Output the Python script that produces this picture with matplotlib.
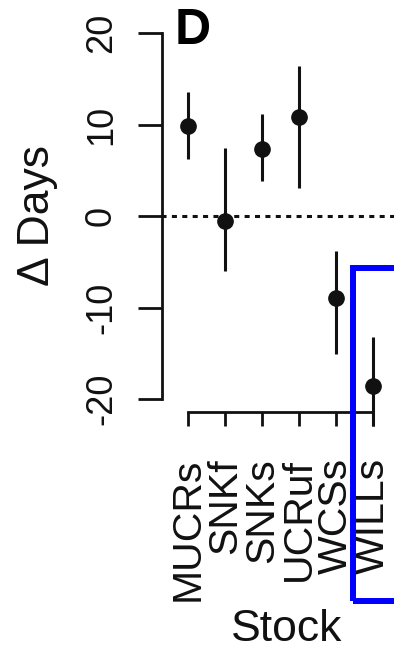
import matplotlib
matplotlib.use("Agg")
import matplotlib.pyplot as plt
from matplotlib.patches import Rectangle

plt.rcParams['font.family'] = ['Liberation Sans', 'DejaVu Sans']

stocks = ["MUCRs", "SNKf", "SNKs", "UCRuf", "WCSs", "WILLs"]
delta_days = [9.8, -0.5, 7.3, 10.8, -9.0, -18.6]
ci_low = [6.2, -6.0, 3.8, 3.1, -15.1, -23.0]
ci_high = [13.5, 7.4, 11.1, 16.4, -3.8, -13.2]
y_ticks = [-20, -10, 0, 10, 20]

W, H = 394, 651
fig = plt.figure(figsize=(W / 100, H / 100), dpi=100)

# axes box in pixels
L, R, T, B = 170, 394, 20, 400
ax = fig.add_axes([L / W, 1 - B / H, (R - L) / W, (B - T) / H])
ax.set_xlim((L - 188) / 37.0, (R - 188) / 37.0)
ax.set_ylim((216 - B) / 9.15, (216 - T) / 9.15)

x = list(range(len(stocks)))
ink = "#111111"

# reference line at zero
ax.axhline(0, color=ink, lw=2.2, linestyle=(0, (1.65, 1.75)), clip_on=False,
           xmin=-0.04, xmax=1.0)

# error bars and points
for xi, lo, hi in zip(x, ci_low, ci_high):
    ax.plot([xi, xi], [lo, hi], color=ink, lw=2.2, clip_on=False, solid_capstyle="butt")
ax.plot(x, delta_days, 'o', color=ink, markersize=11, clip_on=False)

# spines R-style
for s in ["top", "right"]:
    ax.spines[s].set_visible(False)
ax.spines["left"].set_position(("outward", 8 * 0.72))
ax.spines["left"].set_bounds(-20, 20)
ax.spines["bottom"].set_position(("outward", 12 * 0.72))
ax.spines["bottom"].set_bounds(0, 5)
for s in ["left", "bottom"]:
    ax.spines[s].set_linewidth(2.0)
    ax.spines[s].set_color(ink)

ax.set_yticks(y_ticks)
ax.set_yticklabels([str(v) for v in y_ticks], rotation=90, va="center")
ax.tick_params(axis="y", length=17, width=2.0, color=ink, labelsize=26, pad=14,
               labelcolor=ink)
ax.set_xticks(x)
ax.set_xticklabels(stocks, rotation=90)
ax.tick_params(axis="x", length=10, width=2.0, color=ink, labelsize=29.5, pad=23,
               labelcolor=ink)

ax.set_xlabel("Stock", fontsize=32, color=ink)
ax.xaxis.set_label_coords((287 - L) / (R - L), (B - 609) / (B - T))
ax.set_ylabel("\u0394 Days", fontsize=32, color=ink)
ax.yaxis.set_label_coords((58 - L) / (R - L), (B - 216) / (B - T))

fig.text(193 / W, 1 - 31 / H, "D", fontsize=36, fontweight="bold", ha="center",
         va="center", color="black")

# blue highlight box
fig.patches.append(Rectangle((352.5 / W, 1 - 600.5 / H), 0.2, (600.5 - 267.5) / H,
                             transform=fig.transFigure, fill=False,
                             edgecolor="#0000ff", lw=4.3, figure=fig))

fig.savefig("out.png", dpi=100)
